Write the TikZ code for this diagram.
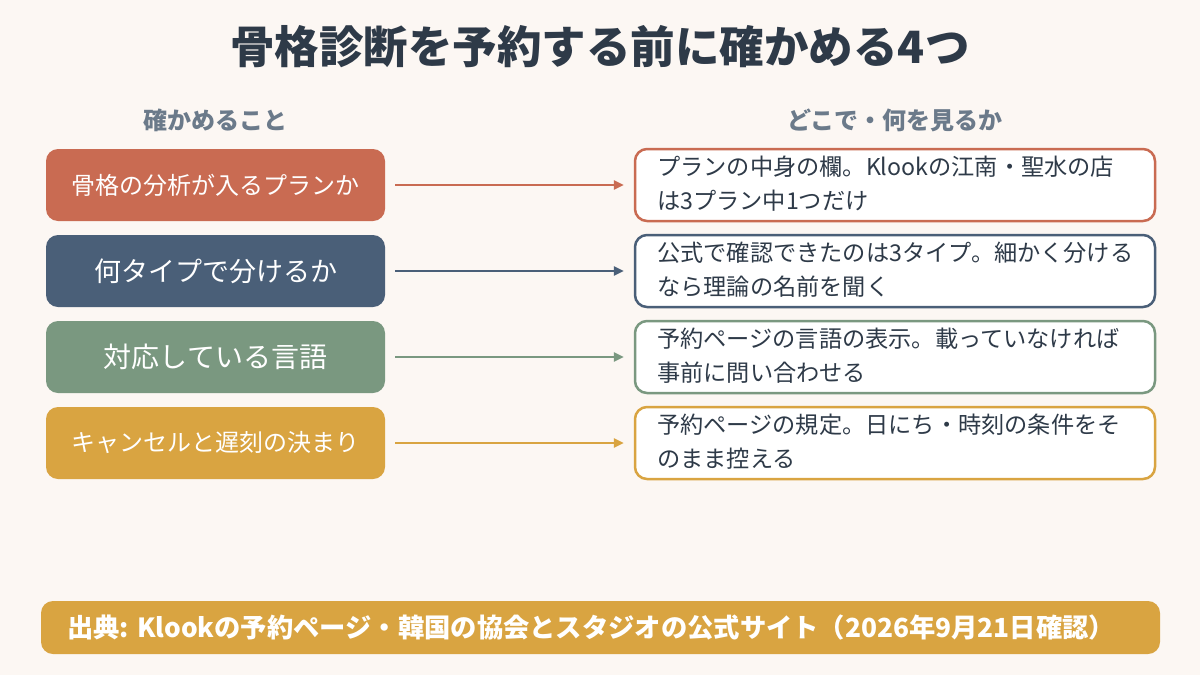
\documentclass[tikz,border=0pt]{standalone}
\usepackage{fontspec}
\setmainfont{Noto Sans CJK JP}
\usetikzlibrary{arrows.meta}
\definecolor{bg}{HTML}{FCF7F3}
\definecolor{ink}{HTML}{2E3A48}
\definecolor{hdr}{HTML}{6B7A8A}
\definecolor{cA}{HTML}{C96B52}
\definecolor{cB}{HTML}{4A5F78}
\definecolor{cC}{HTML}{7A9880}
\definecolor{cD}{HTML}{D9A441}
\tikzset{
  leftbox/.style={draw=none, fill=#1, rounded corners=12pt, minimum width=339pt, minimum height=72pt, text=white, inner sep=0pt},
  rightbox/.style={draw=#1, line width=2.5pt, fill=white, rounded corners=12pt, minimum width=520pt, minimum height=72pt, inner sep=0pt},
  rtext/.style={anchor=west, align=left, text=ink, font=\fontsize{23.2}{34}\selectfont, inner sep=0pt},
  conn/.style={draw=#1, line width=2.4pt, -{Triangle[length=10pt,width=9pt]}},
  hd/.style={text=hdr, font=\bfseries\fontsize{24}{28}\selectfont}
}
\begin{document}
\begin{tikzpicture}[x=1pt,y=-1pt]
\fill[bg] (0,0) rectangle (1200,675);
\useasboundingbox (0,0) rectangle (1200,675);
\node[text=ink, font=\bfseries\fontsize{44.5}{50}\selectfont] (title) at (600,47) {骨格診断を予約する前に確かめる4つ};
\node[hd] (h1) at (215,120) {確かめること};
\node[hd] (h2) at (895,120) {どこで・何を見るか};
% left boxes
\node[leftbox=cA, font=\fontsize{24}{28}\selectfont] (l1) at (215.5,185) {骨格の分析が入るプランか};
\node[leftbox=cB, font=\fontsize{27}{30}\selectfont] (l2) at (215.5,271) {何タイプで分けるか};
\node[leftbox=cC, font=\fontsize{28}{32}\selectfont] (l3) at (215.5,357) {対応している言語};
\node[leftbox=cD, font=\fontsize{24}{28}\selectfont] (l4) at (215.5,443) {キャンセルと遅刻の決まり};
% right boxes
\node[rightbox=cA] (r1) at (895,185) {};
\node[rightbox=cB] (r2) at (895,271) {};
\node[rightbox=cC] (r3) at (895,357) {};
\node[rightbox=cD] (r4) at (895,443) {};
\node[rtext] (t1) at (657,184) {プランの中身の欄。Klookの江南・聖水の店\\は3プラン中1つだけ};
\node[rtext] (t2) at (657,270) {公式で確認できたのは3タイプ。細かく分ける\\なら理論の名前を聞く};
\node[rtext] (t3) at (657,356) {予約ページの言語の表示。載っていなければ\\事前に問い合わせる};
\node[rtext] (t4) at (657,442) {予約ページの規定。日にち・時刻の条件をそ\\のまま控える};
% connectors
\draw[conn=cA] ([xshift=10pt]l1.east) -- ([xshift=-10pt]r1.west);
\draw[conn=cB] ([xshift=10pt]l2.east) -- ([xshift=-10pt]r2.west);
\draw[conn=cC] ([xshift=10pt]l3.east) -- ([xshift=-10pt]r3.west);
\draw[conn=cD] ([xshift=10pt]l4.east) -- ([xshift=-10pt]r4.west);
% footer
\node[fill=cD, rounded corners=12pt, minimum width=1119pt, minimum height=53pt, inner sep=0pt] (foot) at (600.5,627.5) {};
\node[anchor=west, text=white, font=\bfseries\fontsize{26.3}{30}\selectfont, inner sep=0pt] (src) at (67,627) {出典: Klookの予約ページ・韓国の協会とスタジオの公式サイト（2026年9月21日確認）};
\end{tikzpicture}
\end{document}
